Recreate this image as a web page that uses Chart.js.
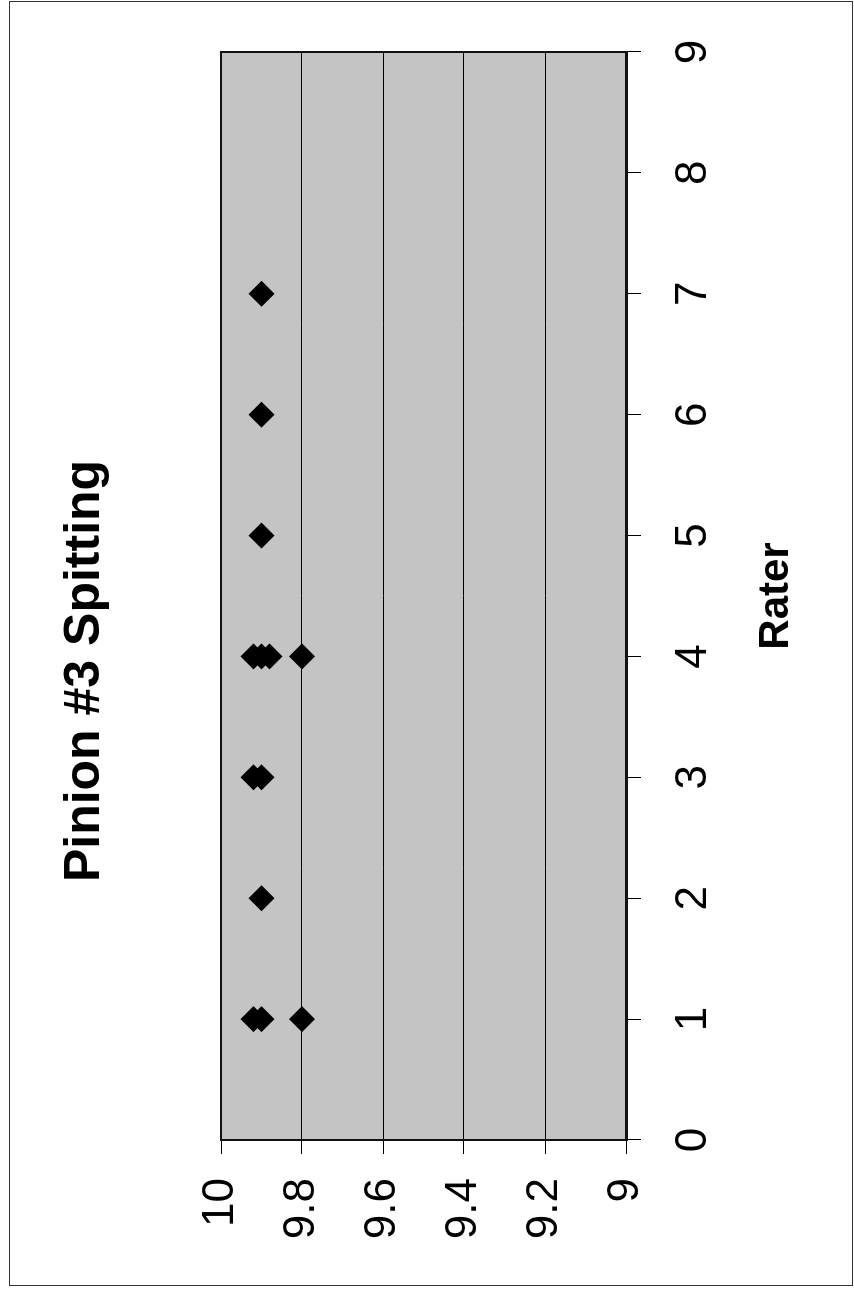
<!DOCTYPE html>
<html>
<head>
<meta charset="utf-8">
<title>Pinion #3 Spitting</title>
<script src="https://cdn.jsdelivr.net/npm/chart.js@4.4.1/dist/chart.umd.min.js"></script>
<style>
  html, body { margin: 0; padding: 0; background: #fff; }
  body { width: 854px; height: 1290px; overflow: hidden; position: relative; }
  /* chart is laid out landscape, then turned a quarter turn counter-clockwise */
  #page {
    position: absolute; left: 0; top: 0;
    width: 1290px; height: 854px;
    transform-origin: 0 0;
    transform: translateY(1290px) rotate(-90deg);
  }
</style>
</head>
<body>
<div id="page"><canvas id="chart"></canvas></div>
<script>
const raters = [1, 1, 1, 2, 3, 3, 4, 4, 4, 4, 5, 6, 7];
const scores = [9.92, 9.9, 9.8, 9.9, 9.92, 9.9, 9.92, 9.9, 9.88, 9.8, 9.9, 9.9, 9.9];
const raterTicks = [0, 1, 2, 3, 4, 5, 6, 7, 8, 9];
const scoreTicks = [9, 9.2, 9.4, 9.6, 9.8, 10];

const FONT = "'Liberation Sans', Arial, sans-serif";

// gray plot fill, plot outline and the thin outer frame
const plotFrame = {
  id: 'plotFrame',
  beforeDraw(chart) {
    const { ctx, chartArea: a, width, height } = chart;
    ctx.save();
    ctx.fillStyle = '#c4c4c4';
    ctx.fillRect(a.left, a.top, a.width, a.height);
    ctx.strokeStyle = '#333';
    ctx.lineWidth = 1;
    ctx.strokeRect(4.5, 9.5, width - 6, height - 11);
    ctx.restore();
  },
  beforeDatasetsDraw(chart) {
    const { ctx, chartArea: a } = chart;
    ctx.save();
    ctx.strokeStyle = '#111';
    ctx.lineWidth = 2;
    ctx.strokeRect(a.left, a.top, a.width, a.height);
    ctx.restore();
  }
};

new Chart(document.getElementById('chart'), {
  type: 'scatter',
  data: {
    datasets: [{
      data: raters.map((r, i) => ({ x: r, y: scores[i] })),
      pointStyle: 'rectRot',
      pointRadius: 13,
      pointBackgroundColor: '#000',
      pointBorderColor: '#000',
      pointBorderWidth: 0
    }]
  },
  options: {
    responsive: true,
    maintainAspectRatio: false,
    animation: false,
    layout: { padding: { left: 0, right: 52, top: 0, bottom: 0 } },
    plugins: {
      legend: { display: false },
      tooltip: { enabled: false },
      title: {
        display: true,
        text: 'Pinion #3 Spitting',
        color: '#000',
        font: { family: FONT, size: 50, weight: 'bold' },
        padding: { top: 55, bottom: 106 }
      }
    },
    scales: {
      x: {
        type: 'linear',
        position: 'bottom',
        min: 0,
        max: 9,
        afterBuildTicks: axis => { axis.ticks = raterTicks.map(v => ({ value: v })); },
        afterFit: axis => { axis.height = 228; },
        grid: { drawOnChartArea: false, drawTicks: true, tickLength: 15, tickColor: '#000', tickWidth: 1 },
        border: { color: '#111', width: 3 },
        ticks: {
          color: '#000',
          font: { family: FONT, size: 44 },
          padding: 26,
          maxRotation: 0,
          autoSkip: false
        },
        title: {
          display: true,
          text: 'Rater',
          color: '#000',
          font: { family: FONT, size: 42, weight: 'bold' },
          padding: { top: 0, bottom: 52 }
        }
      },
      y: {
        type: 'linear',
        min: 9,
        max: 10,
        afterBuildTicks: axis => { axis.ticks = scoreTicks.map(v => ({ value: v })); },
        afterFit: axis => { axis.width = 150; },
        grid: { color: '#000', lineWidth: 1, drawTicks: true, tickLength: 14, tickColor: '#000' },
        border: { color: '#111', width: 2 },
        ticks: {
          color: '#000',
          font: { family: FONT, size: 44 },
          padding: 24,
          callback: v => String(+Number(v).toFixed(1))
        }
      }
    }
  },
  plugins: [plotFrame]
});
</script>
</body>
</html>
